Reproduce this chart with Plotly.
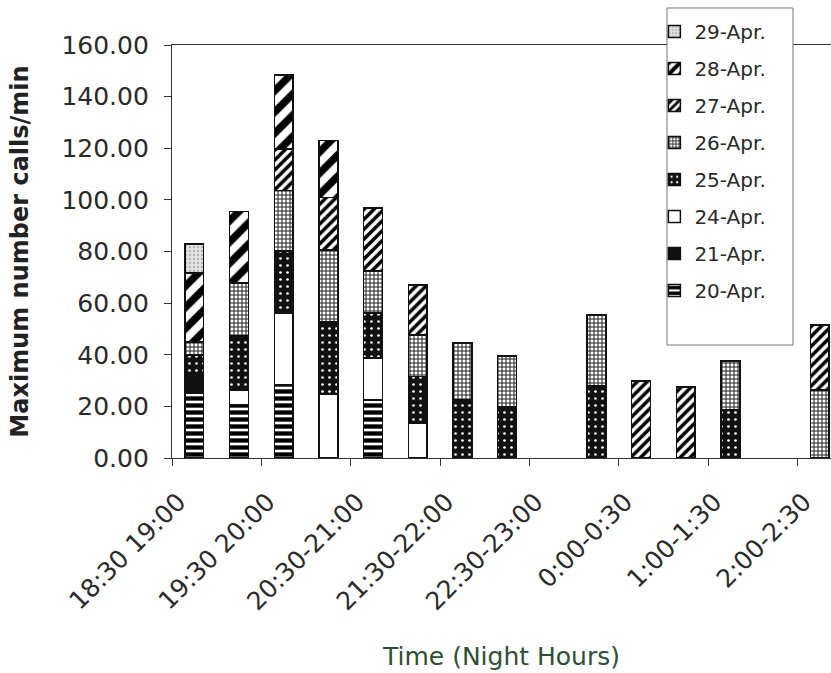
import plotly.graph_objects as go

# Half-hour night slots (x categories)
slots = ["18:30-19:00", "19:00-19:30", "19:30-20:00", "20:00-20:30",
         "20:30-21:00", "21:00-21:30", "21:30-22:00", "22:00-22:30",
         "22:30-23:00", "23:00-23:30", "0:00-0:30", "0:30-1:00",
         "1:00-1:30", "1:30-2:00", "2:00-2:30"]

# Labels written under every second slot
tick_labels = ["18:30 19:00", "19:30 20:00", "20:30-21:00", "21:30-22:00",
               "22:30-23:00", "0:00-0:30", "1:00-1:30", "2:00-2:30"]

# Maximum number of calls per minute, one list per night
apr20 = [25.2, 20.5, 28.3, None, 22.5, None, None, None, None, None, None, None, None, None, None]
apr21 = [7.8, None, None, None, None, None, None, None, None, None, None, None, None, None, None]
apr24 = [None, 5.9, 27.8, 24.8, 16.3, 13.6, None, None, None, None, None, None, None, None, None]
apr25 = [7.0, 20.9, 24.0, 27.9, 17.4, 17.9, 22.5, 20.0, None, 28.0, None, None, 18.6, None, None]
apr26 = [5.0, 20.5, 23.5, 27.9, 16.3, 16.2, 22.1, 19.5, None, 27.4, None, None, 19.0, None, 26.4]
apr27 = [None, None, 16.1, 20.4, 24.4, 19.3, None, None, None, None, 29.8, 27.6, None, None, 25.1]
apr28 = [26.7, 27.7, 28.6, 22.0, None, None, None, None, None, None, None, None, None, None, None]
apr29 = [11.3, None, None, None, None, None, None, None, None, None, None, None, None, None, None]


def pat(shape, fg, bg, size, solidity):
    return dict(shape=shape, fgcolor=fg, bgcolor=bg, size=size,
                solidity=solidity, fgopacity=1, fillmode="replace")


series = [
    ("20-Apr.", apr20, dict(color="white", pattern=pat("-", "#000", "white", 7, 0.62))),
    ("21-Apr.", apr21, dict(color="#111")),
    ("24-Apr.", apr24, dict(color="white")),
    ("25-Apr.", apr25, dict(color="#111", pattern=pat(".", "white", "#111", 7, 0.12))),
    ("26-Apr.", apr26, dict(color="white", pattern=pat("+", "#222", "white", 4, 0.45))),
    ("27-Apr.", apr27, dict(color="white", pattern=pat("/", "#000", "white", 7, 0.5))),
    ("28-Apr.", apr28, dict(color="white", pattern=pat("/", "#000", "white", 15, 0.5))),
    ("29-Apr.", apr29, dict(color="#dedede", pattern=pat(".", "#b5b5b5", "#e4e4e4", 4, 0.3))),
]

fig = go.Figure()
n = len(series)
for i, (name, vals, mk) in enumerate(series):
    mk = dict(mk)
    mk["line"] = dict(color="#111", width=1.5)
    fig.add_trace(go.Bar(x=slots, y=vals, name=name, marker=mk,
                         legendgroup=name, legendrank=100 + n - i))

# Frame around the legend (white box covering the top border line)
fig.add_shape(type="rect", xref="paper", yref="paper",
              x0=0.7511, x1=0.9423, y0=0.2736, y1=1.0896,
              fillcolor="white", line=dict(color="#777", width=1), layer="above")

text_col = "#2a2a2a"
fig.update_layout(
    width=831, height=673,
    barmode="stack", bargap=0.58,
    paper_bgcolor="white", plot_bgcolor="white",
    margin=dict(l=172, r=0, t=45, b=215),
    font=dict(family="DejaVu Sans", color=text_col),
    showlegend=True,
    legend=dict(
        x=0.732, y=1.080, xanchor="left", yanchor="top",
        traceorder="grouped", tracegroupgap=8,
        bgcolor="rgba(0,0,0,0)", borderwidth=0,
        font=dict(size=20, color=text_col), itemwidth=30,
    ),
    xaxis=dict(
        type="category", categoryorder="array", categoryarray=slots,
        range=[-0.5, 14.25],
        tickvals=slots[::2], ticktext=tick_labels,
        tickangle=-45, tickfont=dict(size=25, color=text_col),
        ticklabelstandoff=18, ticklabelshift=-16,
        tickson="boundaries", ticks="outside", ticklen=7, tickcolor="#333",
        showline=True, linecolor="#333", linewidth=1.2, mirror=True,
        showgrid=False,
        title=dict(text="Time (Night Hours)", font=dict(size=25, color="#2e4f36"), standoff=32),
    ),
    yaxis=dict(
        range=[0, 160], dtick=20, tickformat=".2f",
        tickfont=dict(size=25, color=text_col),
        ticklabelstandoff=10,
        ticks="outside", ticklen=7, tickcolor="#333",
        showline=True, linecolor="#333", linewidth=1.2,
        showgrid=False, zeroline=False,
        title=dict(text="<b>Maximum number calls/min</b>", font=dict(size=24, color="#222"), standoff=26),
    ),
)

fig.write_html("out.html")
